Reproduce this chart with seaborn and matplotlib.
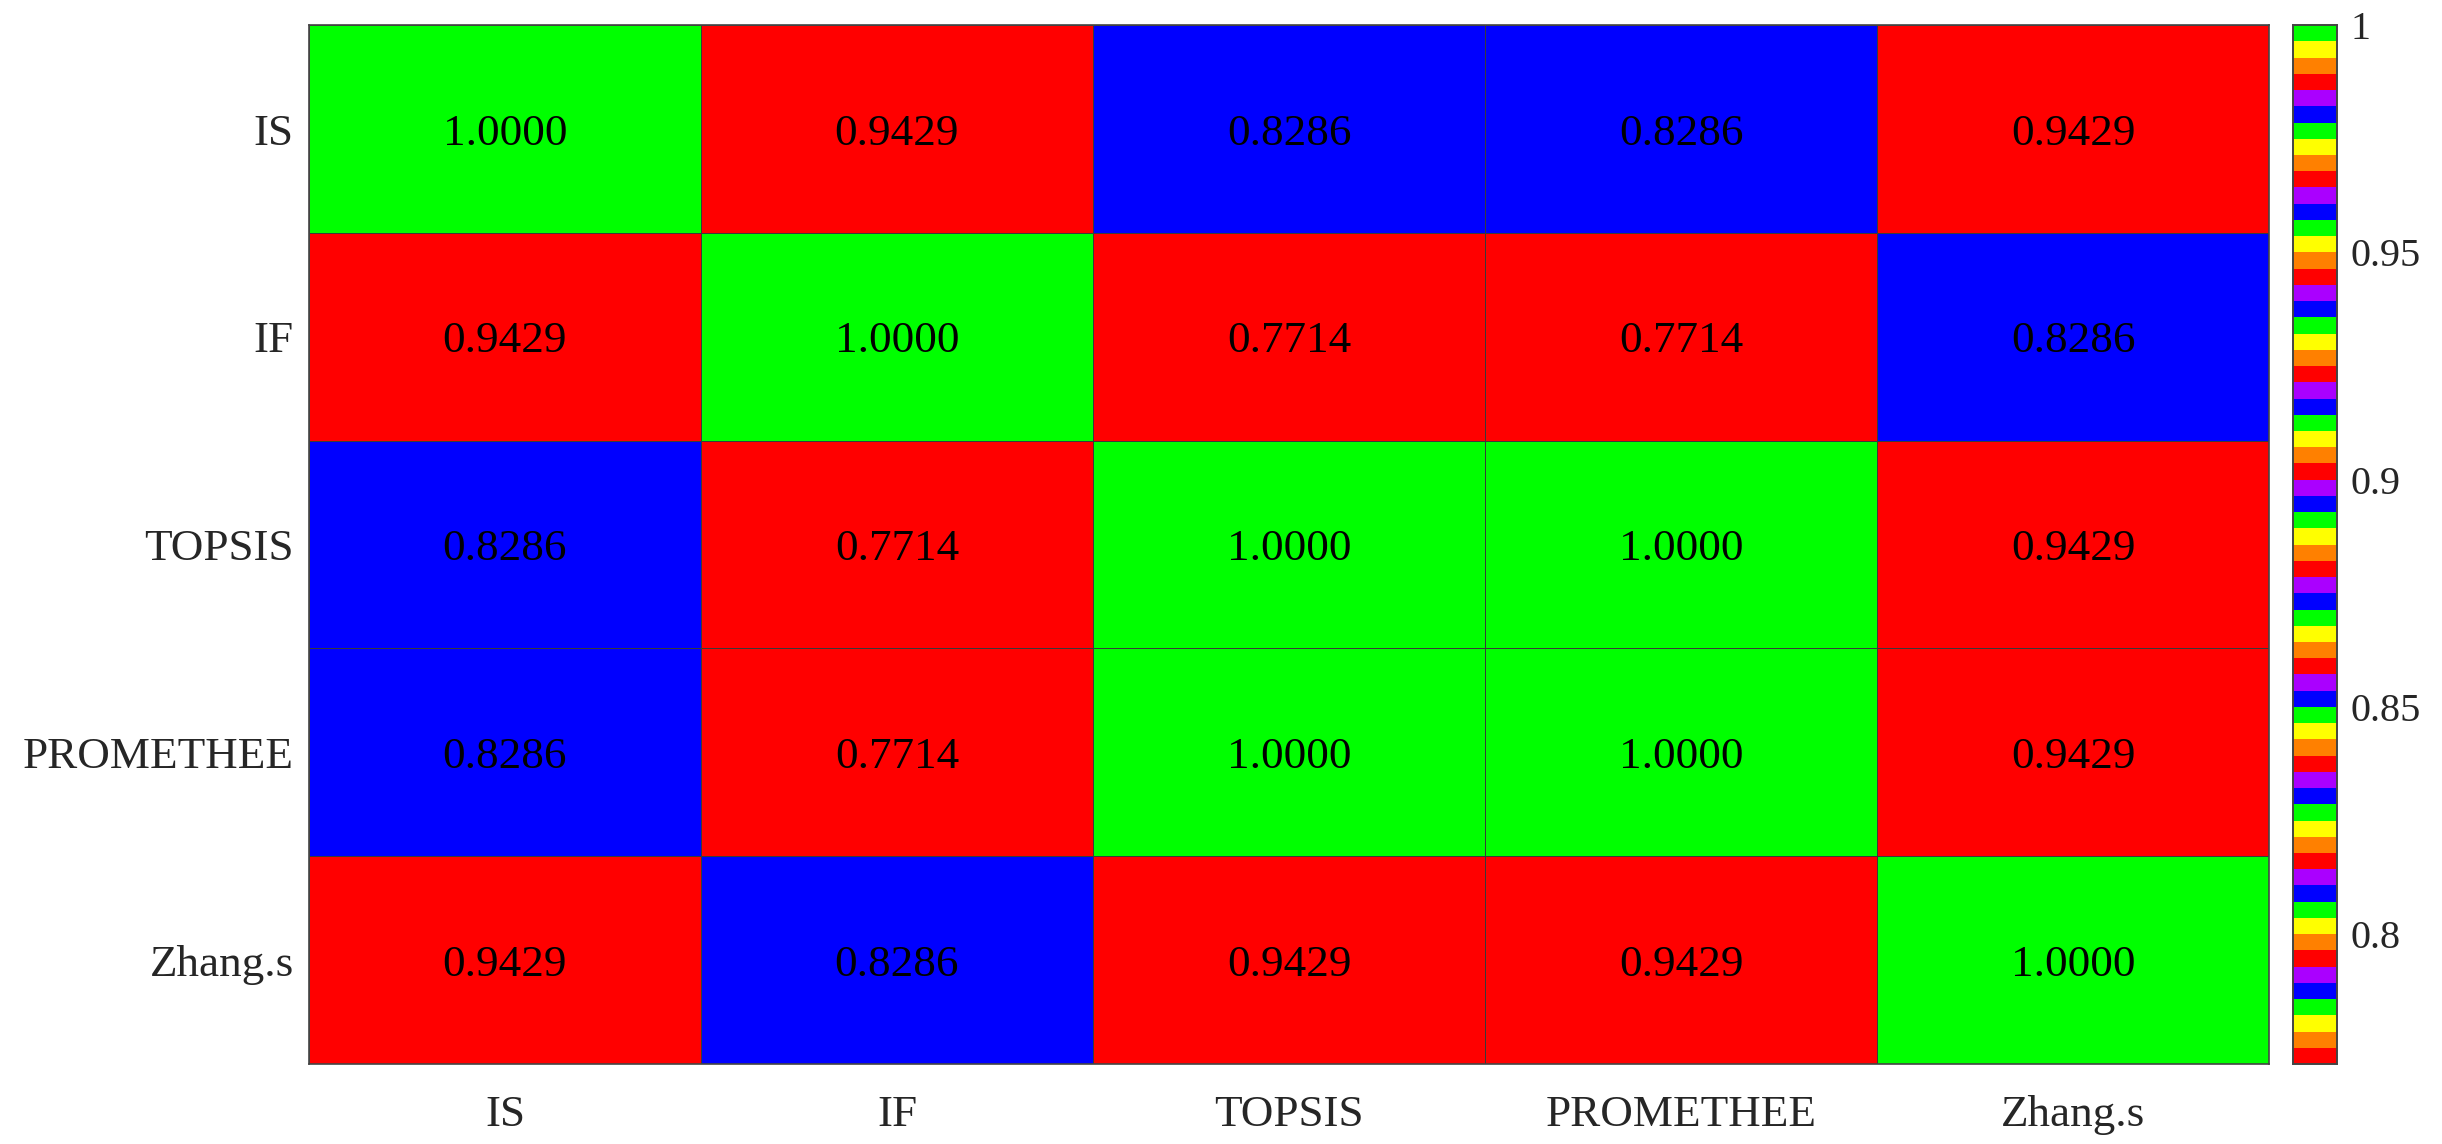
import numpy as np
import pandas as pd
import matplotlib
matplotlib.use("Agg")
import matplotlib.pyplot as plt
import seaborn as sns
from matplotlib.colors import ListedColormap

labels = ["IS", "IF", "TOPSIS", "PROMETHEE", "Zhang.s"]
row_IS = [1.0000, 0.9429, 0.8286, 0.8286, 0.9429]
row_IF = [0.9429, 1.0000, 0.7714, 0.7714, 0.8286]
row_TOPSIS = [0.8286, 0.7714, 1.0000, 1.0000, 0.9429]
row_PROMETHEE = [0.8286, 0.7714, 1.0000, 1.0000, 0.9429]
row_Zhang = [0.9429, 0.8286, 0.9429, 0.9429, 1.0000]
cbar_ticks = [0.8, 0.85, 0.9, 0.95, 1.0]
cbar_ticklabels = ["0.8", "0.85", "0.9", "0.95", "1"]

cycle = ["#ff0000", "#ff8000", "#ffff00", "#00ff00", "#0000ff", "#aa00ff"]
cmap = ListedColormap([cycle[i % 6] for i in range(64)])

df = pd.DataFrame([row_IS, row_IF, row_TOPSIS, row_PROMETHEE, row_Zhang],
                  index=labels, columns=labels)

sns.set_theme(style="white")
plt.rcParams['font.family'] = ['Liberation Serif', 'DejaVu Serif']

fig = plt.figure(figsize=(24.42, 11.44), dpi=100)
ax = fig.add_axes([0.1265, 0.0699, 0.8027, 0.9081])
cax = fig.add_axes([0.939, 0.0699, 0.018, 0.9081])

vmin = min(min(r) for r in df.values.tolist())
sns.heatmap(df, ax=ax, cbar_ax=cax, cmap=cmap, vmin=vmin, vmax=1.0,
            annot=True, fmt=".4f",
            annot_kws={"size": 32.5, "color": "black", "va": "center_baseline"},
            linewidths=0.6, linecolor="#3a3a3a",
            cbar_kws={"ticks": cbar_ticks})

ax.tick_params(axis="both", length=0, labelsize=32.5, colors="#262626")
ax.tick_params(axis="y", pad=11)
ax.tick_params(axis="x", pad=22)
ax.set_yticklabels(labels, rotation=0, va="center_baseline")
ax.set_xticklabels(labels, rotation=0)
ax.set_xlabel("")
ax.set_ylabel("")
for s in ax.spines.values():
    s.set_visible(True)
    s.set_color("#444444")
    s.set_linewidth(1.2)

cax.set_yticks(cbar_ticks)
cax.set_yticklabels(cbar_ticklabels)
cax.tick_params(labelsize=29, colors="#262626", length=5, width=1, direction="in", pad=10)
for s in cax.spines.values():
    s.set_visible(True)
    s.set_color("#444444")
    s.set_linewidth(1.2)

fig.savefig("out.png", dpi=100)
